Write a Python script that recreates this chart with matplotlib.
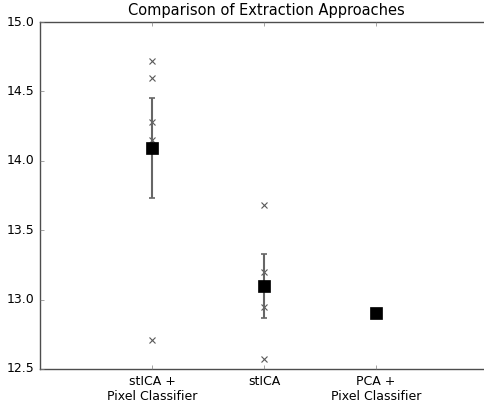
import matplotlib
matplotlib.use('Agg')
import matplotlib.pyplot as plt

categories = ['stICA +\nPixel Classifier', 'stICA', 'PCA +\nPixel Classifier']
positions = [1, 2, 3]

# individual runs (x markers)
runs_sticapc = [14.72, 14.60, 14.28, 14.15, 12.71]
runs_stica = [13.68, 13.20, 12.95, 12.57]
runs_pca = []

# means and standard errors (squares + error bars)
means = [14.09, 13.10, 12.90]
errors = [0.36, 0.23, 0.0]

plt.style.use('classic')
fig = plt.figure(figsize=(4.84, 4.05), dpi=100)
fig.patch.set_facecolor('white')
ax = fig.add_axes([40 / 484, 36 / 405, 452 / 484, 347 / 405])

for pos, runs in zip(positions, [runs_sticapc, runs_stica, runs_pca]):
    if runs:
        ax.plot([pos] * len(runs), runs, 'x', color='0.35', markersize=5,
                markeredgewidth=0.8)

for pos, m, e in zip(positions, means, errors):
    if e > 0:
        ax.errorbar(pos, m, yerr=e, fmt='none', ecolor='0.4', elinewidth=1.5,
                    capsize=2.5, capthick=1.2)
    ax.plot(pos, m, 's', color='black', markersize=8)

ax.set_xlim(0, 4 * 452 / 448)
ax.set_ylim(12.5, 15.0)
ax.set_yticks([12.5, 13.0, 13.5, 14.0, 14.5, 15.0])
ax.set_yticklabels(['12.5', '13.0', '13.5', '14.0', '14.5', '15.0'])
ax.set_xticks(positions)
ax.set_xticklabels(categories)
ax.tick_params(labelsize=9, length=3, color='0.5')
for s in ax.spines.values():
    s.set_color('0.3')
ax.set_title('Comparison of Extraction Approaches', fontsize=10.5)

fig.savefig('out.png', dpi=100, facecolor='white')
